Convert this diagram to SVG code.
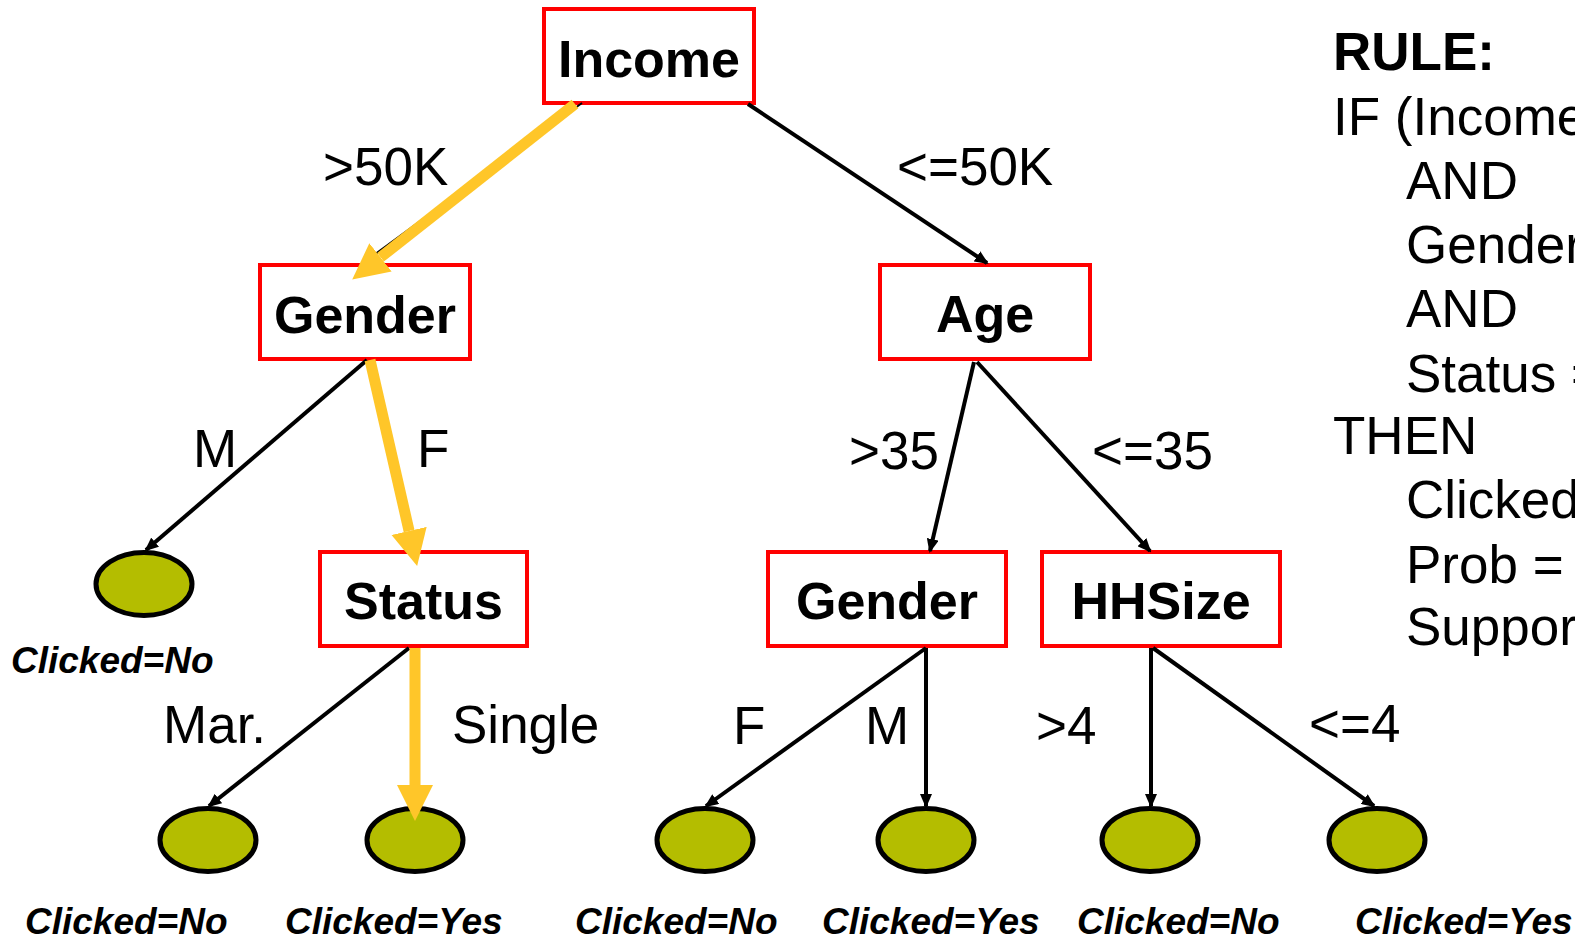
<svg xmlns="http://www.w3.org/2000/svg" width="1575" height="937" viewBox="0 0 1575 937">
  <style>
    .box { fill: #ffffff; stroke: #ff0000; stroke-width: 4; }
    .leaf { fill: #b4bd00; stroke: #000000; stroke-width: 5; }
    .node-label { font-family: "Liberation Sans", Arial, sans-serif; font-weight: bold; font-size: 52px; text-anchor: middle; fill: #000; }
    .edge-label { font-family: "Liberation Sans", Arial, sans-serif; font-size: 53px; fill: #000; }
    .leaf-label { font-family: "Liberation Sans", Arial, sans-serif; font-weight: bold; font-style: italic; font-size: 37px; fill: #000; }
    .rule { font-family: "Liberation Sans", Arial, sans-serif; font-size: 53px; fill: #000; }
    .edge { fill: none; stroke: #000000; stroke-width: 4; marker-end: url(#arrow); }
    .path { fill: none; stroke: #ffc629; stroke-width: 11; marker-end: url(#arrow-hi); }
  </style>
  <defs>
    <marker id="arrow" viewBox="0 0 14 12" refX="12" refY="6" markerWidth="14" markerHeight="12" markerUnits="userSpaceOnUse" orient="auto">
      <path d="M0,0 L14,6 L0,12 z" fill="#000000"/>
    </marker>
    <marker id="arrow-hi" viewBox="0 0 10 10" refX="0" refY="5" markerWidth="36" markerHeight="37" markerUnits="userSpaceOnUse" orient="auto">
      <path d="M0,0 L10,5 L0,10 z" fill="#ffc629"/>
    </marker>
  </defs>

  <rect width="1575" height="937" fill="#ffffff"/>

  <!-- edge labels -->
  <g id="edge-labels">
    <text class="edge-label" x="323" y="185">&gt;50K</text>
    <text class="edge-label" x="897" y="185">&lt;=50K</text>
    <text class="edge-label" x="193" y="467">M</text>
    <text class="edge-label" x="417" y="467">F</text>
    <text class="edge-label" x="849" y="469">&gt;35</text>
    <text class="edge-label" x="1092" y="469">&lt;=35</text>
    <text class="edge-label" x="163" y="743">Mar.</text>
    <text class="edge-label" x="452" y="743">Single</text>
    <text class="edge-label" x="733" y="744">F</text>
    <text class="edge-label" x="865" y="744">M</text>
    <text class="edge-label" x="1036" y="744">&gt;4</text>
    <text class="edge-label" x="1309" y="742">&lt;=4</text>
  </g>

  <!-- split nodes -->
  <g id="node-income">
    <rect class="box" x="544" y="9" width="210" height="94"/>
    <text class="node-label" x="649" y="77">Income</text>
  </g>
  <g id="node-gender-1">
    <rect class="box" x="260" y="265" width="210" height="94"/>
    <text class="node-label" x="365" y="333">Gender</text>
  </g>
  <g id="node-age">
    <rect class="box" x="880" y="265" width="210" height="94"/>
    <text class="node-label" x="985" y="332">Age</text>
  </g>
  <g id="node-status">
    <rect class="box" x="320" y="552" width="207" height="94"/>
    <text class="node-label" x="423.5" y="619">Status</text>
  </g>
  <g id="node-gender-2">
    <rect class="box" x="768" y="552" width="238" height="94"/>
    <text class="node-label" x="887" y="619">Gender</text>
  </g>
  <g id="node-hhsize">
    <rect class="box" x="1042" y="552" width="238" height="94"/>
    <text class="node-label" x="1161" y="619">HHSize</text>
  </g>

  <!-- leaves -->
  <g id="leaf-1">
    <ellipse class="leaf" cx="144" cy="584" rx="48" ry="31.5"/>
    <text class="leaf-label" x="11" y="673">Clicked=No</text>
  </g>
  <g id="leaf-2">
    <ellipse class="leaf" cx="208" cy="840" rx="48" ry="31.5"/>
    <text class="leaf-label" x="25" y="934">Clicked=No</text>
  </g>
  <g id="leaf-3">
    <ellipse class="leaf" cx="415" cy="840" rx="48" ry="31.5"/>
    <text class="leaf-label" x="285" y="934">Clicked=Yes</text>
  </g>
  <g id="leaf-4">
    <ellipse class="leaf" cx="705" cy="840" rx="48" ry="31.5"/>
    <text class="leaf-label" x="575" y="934">Clicked=No</text>
  </g>
  <g id="leaf-5">
    <ellipse class="leaf" cx="926" cy="840" rx="48" ry="31.5"/>
    <text class="leaf-label" x="822" y="934">Clicked=Yes</text>
  </g>
  <g id="leaf-6">
    <ellipse class="leaf" cx="1150" cy="840" rx="48" ry="31.5"/>
    <text class="leaf-label" x="1077" y="934">Clicked=No</text>
  </g>
  <g id="leaf-7">
    <ellipse class="leaf" cx="1377" cy="840" rx="48" ry="31.5"/>
    <text class="leaf-label" x="1355" y="934">Clicked=Yes</text>
  </g>

  <!-- connectors (drawn last so the highlighted arrowheads sit over the nodes) -->
  <g id="connectors">
    <line x1="582" y1="103" x2="363" y2="263" stroke="#000" stroke-width="2"/>
    <line class="edge" x1="748" y1="104" x2="987" y2="263"/>
    <line class="edge" x1="367" y1="360" x2="146" y2="550"/>
    <line class="edge" x1="974" y1="362" x2="930" y2="551"/>
    <line class="edge" x1="977" y1="362" x2="1150" y2="551"/>
    <line class="edge" x1="409" y1="648" x2="209" y2="806"/>
    <line class="edge" x1="926" y1="648" x2="706" y2="806"/>
    <line class="edge" x1="926" y1="648" x2="926" y2="806"/>
    <line class="edge" x1="1151" y1="648" x2="1151" y2="806"/>
    <line class="edge" x1="1153" y1="648" x2="1374" y2="806"/>
    <!-- highlighted rule path -->
    <line class="path" x1="575" y1="104" x2="380.5" y2="257.3"/>
    <line class="path" x1="370" y1="360" x2="409.1" y2="530.9"/>
    <line class="path" x1="415" y1="648" x2="415" y2="785"/>
  </g>

  <!-- extracted rule -->
  <g id="rule">
    <text class="rule" x="1333" y="70" font-weight="bold">RULE:</text>
    <text class="rule" x="1333" y="135">IF (Income</text>
    <text class="rule" x="1406" y="199">AND</text>
    <text class="rule" x="1406" y="263">Gender</text>
    <text class="rule" x="1406" y="327">AND</text>
    <text class="rule" x="1406" y="392">Status =</text>
    <text class="rule" x="1333" y="454">THEN</text>
    <text class="rule" x="1406" y="518">Clicked</text>
    <text class="rule" x="1406" y="583">Prob =</text>
    <text class="rule" x="1406" y="645">Support</text>
  </g>
</svg>
